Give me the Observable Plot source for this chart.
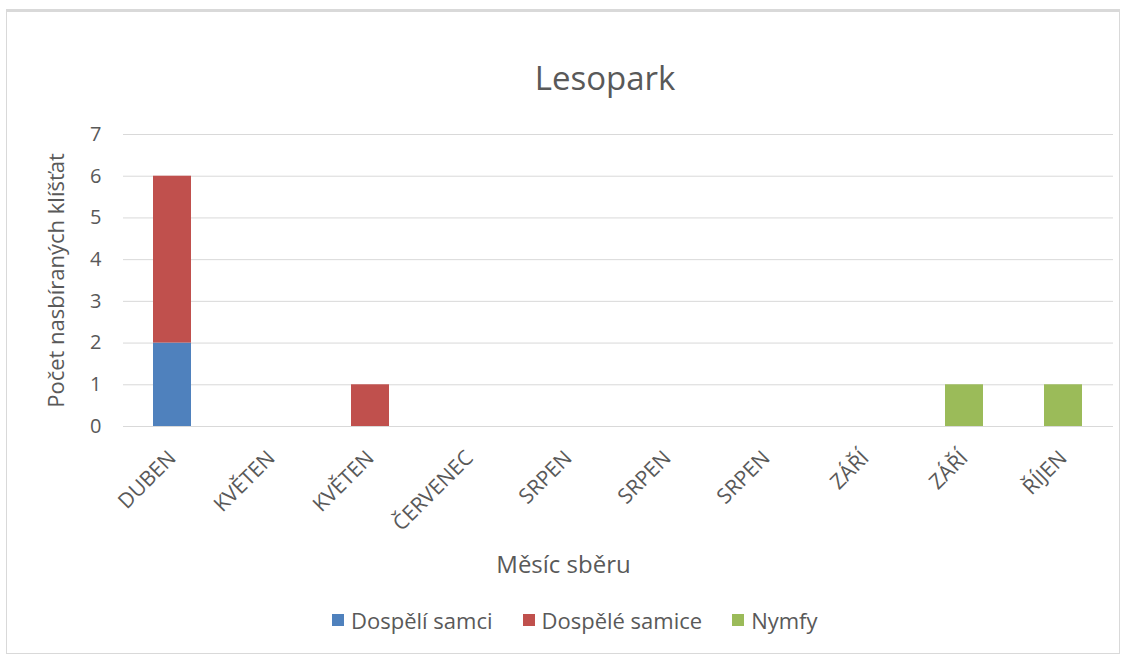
<!DOCTYPE html>
<html>
<head>
<meta charset="utf-8">
<script src="https://cdn.jsdelivr.net/npm/d3@7"></script>
<script src="https://cdn.jsdelivr.net/npm/@observablehq/plot@0.6"></script>
<style>
  body { margin: 0; background: #fff; font-family: "Open Sans", sans-serif; color: #595959; }
  #wrap { position: relative; width: 1131px; height: 660px; overflow: hidden; }
  #frame { position: absolute; left: 6px; top: 9px; width: 1114px; height: 645px; border: 1px solid #d9d9d9; border-top: 3px solid #d9d9d9; box-sizing: border-box; }
  #title { position: absolute; left: 405px; top: 58px; width: 400px; text-align: center; font-size: 33px; line-height: 40px; }
  #chart { position: absolute; left: 0; top: 100px; }
  #legend { position: absolute; left: 332px; top: 605px; display: flex; font-size: 22px; line-height: 30px; white-space: nowrap; }
  .item { display: flex; align-items: center; margin-right: 30px; }
  .sw { width: 12px; height: 12px; margin-right: 7px; }
</style>
</head>
<body>
<div id="wrap">
  <div id="frame"></div>
  <div id="title"></div>
  <div id="chart"></div>
  <div id="legend"></div>
</div>
<script>
const titleText = "Lesopark";
const yLabel = "Počet nasbíraných klíšťat";
const xLabel = "Měsíc sběru";
const months = ["DUBEN", "KVĚTEN", "KVĚTEN", "ČERVENEC", "SRPEN", "SRPEN", "SRPEN", "ZÁŘÍ", "ZÁŘÍ", "ŘÍJEN"];
const seriesNames = ["Dospělí samci", "Dospělé samice", "Nymfy"];
const seriesColors = ["#4f81bd", "#c0504d", "#9bbb59"];
const males   = [2, 0, 0, 0, 0, 0, 0, 0, 0, 0];
const females = [4, 0, 1, 0, 0, 0, 0, 0, 0, 0];
const nymphs  = [0, 0, 0, 0, 0, 0, 0, 0, 1, 1];
const yTicks = [0, 1, 2, 3, 4, 5, 6, 7];

const seriesValues = [males, females, nymphs];
const data = [];
months.forEach((m, i) => {
  seriesNames.forEach((s, k) => {
    data.push({i, month: m, series: s, value: seriesValues[k][i]});
  });
});

document.getElementById("title").textContent = titleText;

const chart = Plot.plot({
  width: 1131,
  height: 490,
  marginLeft: 123,
  marginRight: 18,
  marginTop: 34,
  marginBottom: 164,
  style: { fontFamily: "Open Sans, sans-serif", color: "#595959", background: "transparent" },
  x: { type: "band", domain: d3.range(months.length), paddingInner: 0.616, paddingOuter: 0.308 },
  y: { domain: [0, 7] },
  color: { domain: seriesNames, range: seriesColors },
  marks: [
    Plot.gridY(yTicks, { stroke: "#d9d9d9", strokeOpacity: 1, strokeWidth: 1 }),
    Plot.ruleY([0], { stroke: "#d9d9d9", strokeWidth: 1 }),
    Plot.barY(data.filter(d => d.value > 0), { x: "i", y: "value", fill: "series" }),
    Plot.axisY(yTicks, { tickSize: 0, tickPadding: 22, fontSize: 20, label: null, fill: "#595959" }),
    Plot.axisX({ tickSize: 0, tickPadding: 28, tickRotate: -45, fontSize: 21, label: null, fill: "#595959", tickFormat: i => months[i] }),
    Plot.text([yLabel], { frameAnchor: "left", textAnchor: "middle", rotate: -90, dx: -67, fontSize: 22, fill: "#595959" }),
    Plot.text([xLabel], { frameAnchor: "bottom", textAnchor: "middle", dx: -55, dy: 146, fontSize: 24, fill: "#595959" })
  ]
});
document.getElementById("chart").appendChild(chart);

const legend = document.getElementById("legend");
seriesNames.forEach((s, k) => {
  const item = document.createElement("div");
  item.className = "item";
  const sw = document.createElement("span");
  sw.className = "sw";
  sw.style.background = seriesColors[k];
  const t = document.createElement("span");
  t.textContent = s;
  item.appendChild(sw);
  item.appendChild(t);
  legend.appendChild(item);
});
</script>
</body>
</html>
